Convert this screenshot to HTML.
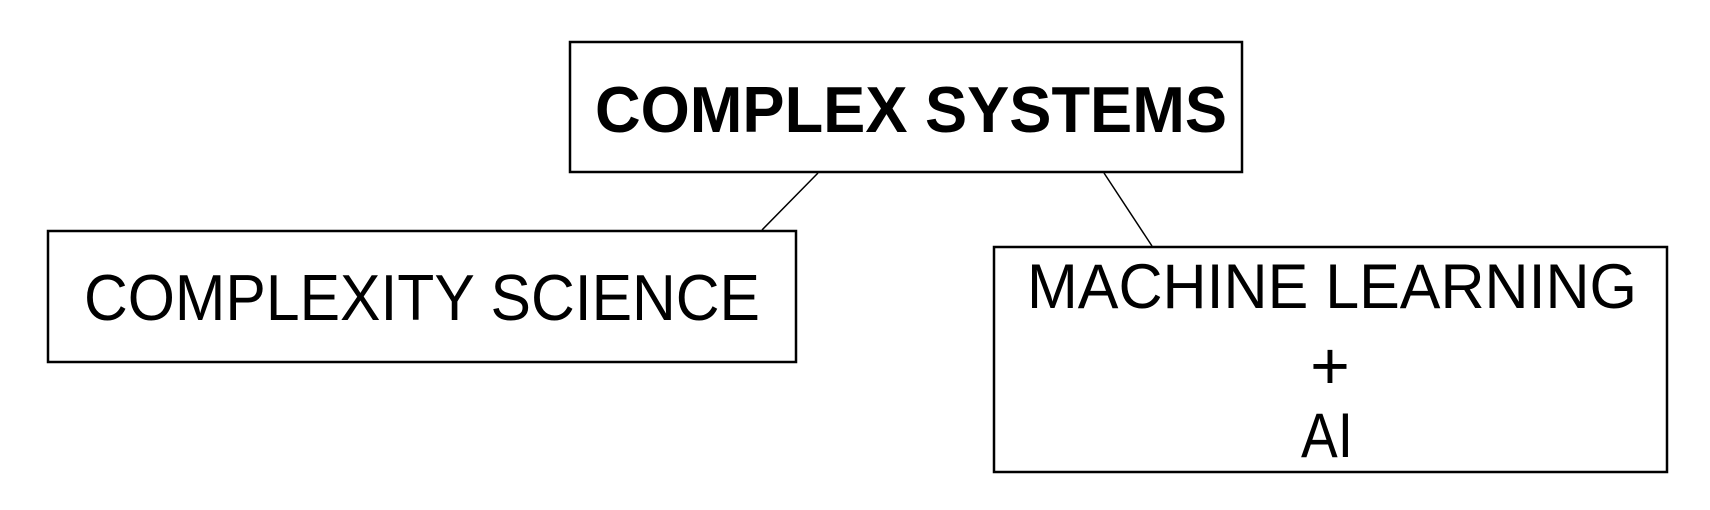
<!DOCTYPE html>
<html><head><meta charset="utf-8"><style>
html,body{margin:0;padding:0;background:#fff;width:1710px;height:510px;overflow:hidden}
</style></head><body>
<svg width="1710" height="510" viewBox="0 0 1710 510" xmlns="http://www.w3.org/2000/svg">
<g fill="none" stroke="#000">
<rect x="570" y="42" width="672" height="130" stroke-width="2.5"/>
<rect x="48" y="231" width="748" height="131" stroke-width="2.5"/>
<rect x="994" y="247" width="673" height="225" stroke-width="2.5"/>
<line x1="818" y1="173" x2="762" y2="230" stroke-width="1.5"/>
<line x1="1104" y1="173" x2="1152" y2="246" stroke-width="1.5"/>
</g>
<g font-family="Liberation Sans, Arial, sans-serif" fill="#000">
<text x="595" y="132" font-size="65" font-weight="bold" textLength="632" lengthAdjust="spacingAndGlyphs">COMPLEX SYSTEMS</text>
<text x="84" y="320" font-size="65" textLength="676" lengthAdjust="spacingAndGlyphs">COMPLEXITY SCIENCE</text>
<text x="1027" y="308" font-size="63" textLength="610" lengthAdjust="spacingAndGlyphs">MACHINE LEARNING</text>
<text x="1330" y="389" font-size="68" text-anchor="middle">+</text>
<text x="1301" y="457" font-size="63" textLength="52" lengthAdjust="spacingAndGlyphs">AI</text>
</g>
</svg>
</body></html>
